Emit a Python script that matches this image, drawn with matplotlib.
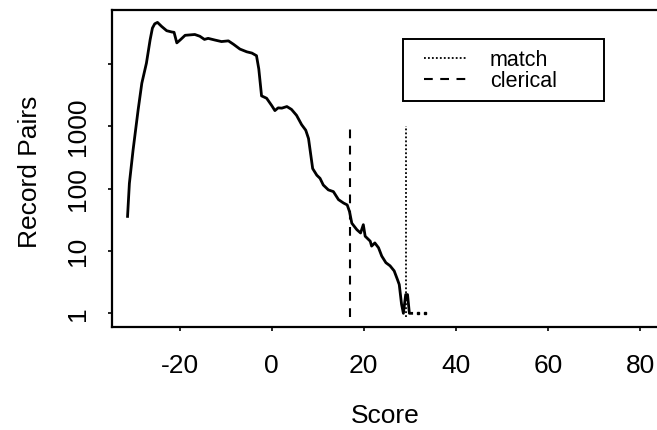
import matplotlib
matplotlib.use("Agg")
import matplotlib.pyplot as plt
from matplotlib.patches import Rectangle
from matplotlib.ticker import FixedLocator, FixedFormatter, NullLocator

plt.rcParams['font.family'] = ['Liberation Sans', 'DejaVu Sans']
plt.rcParams['axes.unicode_minus'] = False

# score distribution
score = [-31.3, -30.9, -30.1, -29.0, -28.2, -27.2, -26.4, -25.9, -25.4, -24.8,
         -23.9, -22.8, -21.7, -21.2, -20.6, -19.9, -18.8, -16.7, -15.6, -14.6,
         -13.8, -12.3, -10.9, -9.4, -8.3, -6.9, -5.4, -4.3, -3.3, -2.8,
         -2.2, -1.1, 0.0, 0.7, 1.4, 2.2, 3.3, 4.3, 5.4, 6.5,
         7.4, 8.0, 8.5, 8.9, 9.8, 10.5, 11.2, 12.3, 13.4, 14.5,
         15.6, 16.4, 16.9, 17.4, 18.5, 19.3, 19.9, 20.3, 21.4, 21.7,
         22.4, 23.2, 23.9, 24.8, 25.7, 26.6, 27.3, 27.7, 28.2, 28.6,
         29.1, 29.5, 29.9, 30.4]
pairs = [36, 122, 418, 1850, 4950, 10400, 24600, 38000, 44500, 46900,
         40400, 34500, 32900, 32500, 22000, 24400, 29100, 30000, 28100, 25000,
         26000, 24400, 23100, 23700, 20900, 17500, 15800, 15100, 13700, 8400,
         3100, 2840, 2170, 1800, 1990, 1970, 2090, 1880, 1510, 1070,
         870, 640, 345, 211, 165, 147, 115, 96, 90, 67,
         59, 55, 43, 28, 22, 19.5, 26.5, 17.3, 14.4, 12.0,
         13.5, 11.3, 8.3, 6.5, 5.8, 4.8, 3.5, 2.9, 1.4, 1,
         2, 2, 1, 1]
# isolated single pairs beyond the curve
lone_score = [31.7, 33.2]
lone_pairs = [1, 1]

# cutoffs
match_cut = 29.2
clerical_cut = 17.0
cut_range = [0.88, 1000]

xticks = [-20, 0, 20, 40, 60, 80]
yticks = [1, 10, 100, 1000, 10000]
ytick_labels = ['1', '10', '100', '1000', '']

fig = plt.figure(figsize=(6.57, 4.30), dpi=100)
ax = fig.add_axes([0.171, 0.2402, 0.8306, 0.7365])

ax.plot(score, pairs, color='black', linewidth=2.0, solid_joinstyle='round')
ax.plot(lone_score, lone_pairs, linestyle='none', marker='s', markersize=1.6,
        color='black')
ax.plot([match_cut, match_cut], cut_range, color='black', linewidth=1.3,
        linestyle=(0, (1.0, 1.2)), label='match')
ax.plot([clerical_cut, clerical_cut], cut_range, color='black', linewidth=1.5,
        linestyle=(0, (4.2, 3.6)), label='clerical')

ax.set_yscale('log')
ax.set_xlim(-34.6, 83.9)
ax.set_ylim(10 ** -0.215, 10 ** 4.87)

ax.xaxis.set_major_locator(FixedLocator(xticks))
ax.yaxis.set_major_locator(FixedLocator(yticks))
ax.yaxis.set_major_formatter(FixedFormatter(ytick_labels))
ax.yaxis.set_minor_locator(NullLocator())

ax.tick_params(axis='both', direction='out', length=3, width=1.2,
               labelsize=19, colors='black')
ax.tick_params(axis='x', pad=17)
ax.tick_params(axis='y', pad=13)
plt.setp(ax.get_yticklabels(), rotation=90, va='center')

for side in ['left', 'bottom', 'top']:
    ax.spines[side].set_linewidth(1.6)
ax.spines['right'].set_visible(False)

ax.set_xlabel('Score', fontsize=19)
ax.set_ylabel('Record Pairs', fontsize=19)
ax.xaxis.set_label_coords(0.5, -0.245)
ax.yaxis.set_label_coords(-0.128, 0.49)

# legend entries without frame, box drawn separately (R style, wide right margin)
leg = ax.legend(loc='upper left',
                bbox_to_anchor=(424 / 657, 1 - 50 / 430),
                bbox_transform=fig.transFigure, frameon=False,
                fontsize=15.5, handlelength=2.0, handletextpad=1.05,
                labelspacing=0.0, borderpad=0, borderaxespad=0)
fig.patches.append(Rectangle((402.7 / 657, 1 - 101 / 430), 201 / 657, 62 / 430,
                             transform=fig.transFigure, fill=False,
                             edgecolor='black', linewidth=1.4))

fig.savefig('out.png', dpi=100)
